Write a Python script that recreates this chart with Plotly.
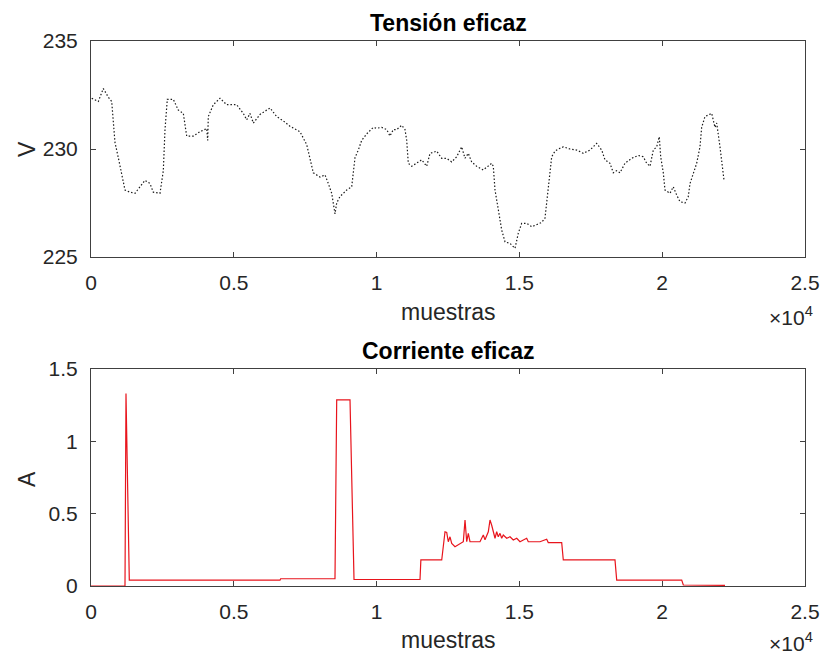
import plotly.graph_objects as go

# ---- data: Tensión eficaz (V) ----
v_samples = [25, 256, 431, 606, 725, 781, 840, 956, 1075, 1190, 1366, 1541, 1716, 1891, 2066, 2181,
             2416, 2532, 2591, 2672, 2882, 3057, 3232, 3350, 3582, 3816, 4051, 4086, 4107, 4282, 4517,
             4751, 5101, 5333, 5452, 5567, 5683, 5917, 6152, 6268, 6502, 6733, 6968, 7318, 7553, 7728,
             7784, 8018, 8194, 8309, 8428, 8543, 8603, 8718, 8953, 9128, 9244, 9359, 9478, 9653, 9884,
             10003, 10178, 10353, 10469, 10585, 10704, 10879, 10994, 11054, 11110, 11229, 11404, 11579,
             11754, 11870, 12104, 12279, 12454, 12629, 12804, 12979, 13095, 13210, 13329, 13504, 13735,
             13910, 14030, 14086, 14146, 14261, 14380, 14496, 14671, 14846, 14961, 15080, 15255, 15430,
             15605, 15780, 15896, 16011, 16071, 16131, 16246, 16362, 16537, 16772, 17006, 17237, 17472,
             17707, 17882, 17997, 18172, 18288, 18407, 18522, 18697, 18932, 19163, 19338, 19457, 19573,
             19688, 19807, 19898, 19947, 20038, 20098, 20273, 20388, 20507, 20623, 20798, 20913, 20973,
             21088, 21207, 21323, 21382, 21498, 21614, 21733, 21848, 21908, 22023, 22083, 22164]
v_values = [232.35, 232.2, 232.8, 232.4, 232.2, 231.2, 230.3, 229.6, 228.9, 228.1, 228.0, 227.95, 228.25,
            228.55, 228.4, 228.0, 227.95, 229.0, 230.9, 232.3, 232.3, 231.8, 231.65, 230.6, 230.6, 230.8,
            230.95, 230.4, 231.5, 232.05, 232.35, 232.05, 232.05, 231.65, 231.35, 231.65, 231.2, 231.6,
            231.8, 231.9, 231.5, 231.3, 231.05, 230.8, 230.2, 229.3, 228.9, 228.7, 228.8, 228.4, 227.95,
            227.0, 227.5, 227.8, 228.1, 228.25, 229.6, 229.95, 230.4, 230.7, 231.0, 230.96, 231.0, 230.9,
            230.6, 230.9, 230.9, 231.1, 230.9, 230.4, 229.34, 229.2, 229.34, 229.5, 229.2, 229.8, 229.9,
            229.57, 229.57, 229.4, 229.64, 230.1, 229.57, 229.8, 229.4, 229.2, 229.03, 229.2, 229.34,
            229.2, 228.1, 227.2, 226.25, 225.7, 225.63, 225.4, 226.1, 226.56, 226.56, 226.4, 226.5, 226.6,
            226.8, 228.1, 228.7, 229.64, 229.9, 230.0, 230.1, 230.0, 229.95, 229.8, 229.95, 230.26,
            229.95, 229.5, 229.34, 228.9, 229.0, 228.9, 229.34, 229.57, 229.7, 229.64, 229.34, 229.2,
            229.95, 230.1, 230.57, 229.64, 228.9, 228.1, 227.95, 228.25, 227.87, 227.56, 227.5, 227.8,
            228.4, 228.9, 229.34, 230.1, 231.0, 231.5, 231.57, 231.65, 231.0, 231.2, 230.1, 229.34, 228.56]

# ---- data: Corriente eficaz (A) ----
i_samples = [0, 1190, 1225, 1341, 6618, 6640, 8543, 8603, 9069, 9209, 11520, 11550, 12280, 12336, 12395,
             12455, 12510, 12570, 12630, 12745, 12805, 12920, 13036, 13096, 13155, 13211, 13270, 13445,
             13620, 13736, 13796, 13911, 13971, 14030, 14086, 14146, 14205, 14261, 14321, 14380, 14436,
             14555, 14671, 14786, 14906, 15021, 15137, 15255, 15311, 15486, 15721, 15955, 16011, 16306,
             16481, 16537, 18347, 18407, 20683, 20739, 22200]
i_values = [0.0, 0.0, 1.33, 0.04, 0.04, 0.05, 0.05, 1.286, 1.286, 0.045, 0.045, 0.18, 0.18, 0.295, 0.375,
            0.37, 0.306, 0.34, 0.295, 0.272, 0.28, 0.295, 0.306, 0.456, 0.306, 0.364, 0.306, 0.306,
            0.306, 0.352, 0.32, 0.375, 0.456, 0.42, 0.364, 0.33, 0.375, 0.34, 0.364, 0.33, 0.352,
            0.33, 0.34, 0.318, 0.33, 0.306, 0.318, 0.33, 0.306, 0.306, 0.306, 0.323, 0.3, 0.3,
            0.3, 0.18, 0.18, 0.041, 0.041, 0.007, 0.005]

x_tickvals = [0, 5000, 10000, 15000, 20000, 25000]
x_ticktext = ["0", "0.5", "1", "1.5", "2", "2.5"]
v_tickvals = [225, 230, 235]
i_tickvals = [0, 0.5, 1, 1.5]
i_ticktext = ["0", "0.5", "1", "1.5"]

W, H = 824, 657
FONT = "Liberation Sans, Arial, sans-serif"
TXT = "#262626"
AX = "#404040"

fig = go.Figure()
fig.add_trace(go.Scatter(x=v_samples, y=v_values, mode="lines",
                         line=dict(color="#1a1a1a", width=1.2, dash="1.5px,2px"),
                         xaxis="x", yaxis="y", showlegend=False))
fig.add_trace(go.Scatter(x=i_samples, y=i_values, mode="lines",
                         line=dict(color="#e8141c", width=1.2),
                         xaxis="x2", yaxis="y2", showlegend=False))

def px(x):
    return x / W

def py(y):
    return 1 - y / H

axis_common = dict(showline=True, linecolor=AX, linewidth=1, mirror="ticks", ticks="inside",
                   ticklen=5, tickcolor=AX, showgrid=False, zeroline=False, automargin=False,
                   tickfont=dict(family=FONT, size=21, color=TXT))

fig.update_layout(
    width=W, height=H, margin=dict(l=0, r=0, t=0, b=0, autoexpand=False),
    paper_bgcolor="white", plot_bgcolor="white",
    xaxis=dict(domain=[px(91), px(805)], range=[0, 25000], tickvals=x_tickvals, ticktext=x_ticktext,
               anchor="y", ticklabelstandoff=7, **axis_common),
    yaxis=dict(domain=[py(257), py(41)], range=[225, 235], tickvals=v_tickvals,
               anchor="x", ticklabelstandoff=8, **axis_common),
    xaxis2=dict(domain=[px(91), px(805)], range=[0, 25000], tickvals=x_tickvals, ticktext=x_ticktext,
                anchor="y2", ticklabelstandoff=7, **axis_common),
    yaxis2=dict(domain=[py(586), py(369)], range=[0, 1.5], tickvals=i_tickvals, ticktext=i_ticktext,
                anchor="x2", ticklabelstandoff=8, **axis_common),
)

def ann(text, x, y, size, bold=False, color=TXT, angle=0, xanchor="center"):
    fig.add_annotation(text=f"<b>{text}</b>" if bold else text, x=px(x), y=py(y), xref="paper",
                       yref="paper", showarrow=False, textangle=angle, xanchor=xanchor,
                       yanchor="middle", font=dict(family=FONT, size=size, color=color))

ann("Tensión eficaz", 448, 23, 23, bold=True, color="black")
ann("Corriente eficaz", 448, 351, 23, bold=True, color="black")
ann("muestras", 448, 312, 23)
ann("muestras", 448, 640, 23)
ann("V", 27, 149, 23, angle=-90)
ann("A", 27, 479, 23, angle=-90)
ann("×10<sup>4</sup>", 815, 316, 21, xanchor="right")
ann("×10<sup>4</sup>", 815, 642, 21, xanchor="right")

fig.write_html("out.html")
